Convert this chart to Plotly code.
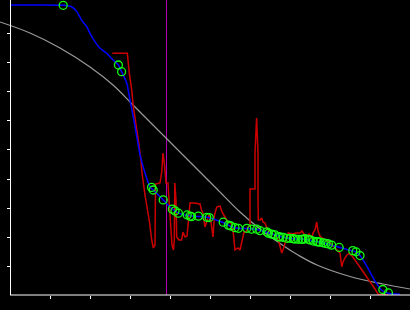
import plotly.graph_objects as go

# ---- data (x: 0-100 scale, y: 0-100 scale) ----
gray_x = [-2.5, 5, 12.5, 20, 25.75, 30.75, 39.25, 46.75, 51.75, 57.5, 62.5, 68.25, 72, 76.75, 85, 93.25, 100]
gray_y = [94.14, 90.34, 85.17, 78.62, 72.41, 65.52, 53.79, 43.45, 36.55, 28.62, 22.76, 17.07, 13.79, 10.34, 6.38, 3.79, 2.07]

blue_x = [0, 7.5, 13.3, 15.4, 16.7, 17.9, 19.2, 20, 21.25, 22.5, 24.2, 25.8, 27.1, 27.9, 29.2, 30, 30.8, 31.7, 32.5,
          33.75, 35, 35.8, 38.3, 40.5, 42, 44.5, 47, 49.5, 53.25, 55, 57, 59.25, 61.75, 64, 66.25, 68.75, 71.25,
          73.75, 75.75, 78, 80.25, 82.5, 84.25, 85.6, 86.5, 87.5, 88.75, 90, 91.25, 92.25, 93, 94.5, 97.5]
blue_y = [100, 100, 99.9, 99.4, 97.7, 94.8, 92.5, 90.2, 87.3, 85.1, 83.3, 81.0, 79.3, 77.0, 73.0, 67.2, 61.5, 54.6, 48.3,
          42.1, 37.3, 36.2, 32.8, 29.7, 28.3, 27.4, 27.1, 26.7, 25.0, 23.8, 23.0, 22.9, 22.6, 21.7, 20.7, 19.8, 19.3,
          19.3, 18.6, 18.1, 17.2, 16.4, 15.7, 15.3, 14.8, 13.6, 11.0, 7.9, 4.8, 2.8, 1.55, 0.6, 0.25]

red_x = [25.58, 29.33, 29.83, 30.43, 30.83, 31.5, 32.08, 32.68, 33.0, 33.75, 34.25, 34.88, 35.43,
         35.83, 36.25, 36.38, 37.5, 37.93, 38.25, 38.63, 39.0, 39.5, 39.75, 40.0, 40.25, 40.5, 40.88, 41.08, 41.2,
         41.5, 41.68, 42.25, 42.93, 43.25, 43.75, 44.25, 44.63, 45.0, 46.0, 47.5, 47.88, 48.25, 48.75, 49.25, 49.75,
         50.25, 50.75, 51.13, 51.68, 52.5, 53.0, 53.75, 54.5, 55.25, 55.75, 56.25, 57.0, 57.5, 58.0, 58.5, 59.0,
         59.5, 60.0, 60.0, 61.25, 61.25, 61.65, 62.0, 62.0, 62.08, 62.5, 62.93, 63.25, 63.75, 64.25, 65.0, 65.75,
         66.5, 67.08, 67.5, 67.93, 68.25, 68.75, 69.25, 69.58, 70.5, 71.5, 72.5, 73.0, 73.5, 74.18, 74.75, 75.43,
         75.75, 76.25, 76.68, 77.0, 77.5, 78.0, 79.0, 80.0, 81.0, 81.75, 82.5, 82.93, 83.25, 83.75, 84.25, 84.75,
         85.5, 86.25, 87.5, 88.75, 90.0, 91.25, 92.08, 94.5]
red_y = [83.34, 83.34, 76.45, 70.69, 64.93, 59.21, 53.45, 47.14, 42.07, 34.48, 30.34, 25.17, 18.97,
         16.21, 17.24, 38.28, 38.62, 42.41, 48.97, 44.83, 38.62, 38.62, 32.76, 27.59, 21.72, 17.24, 15.52, 18.97, 38.62,
         32.76, 20.0, 18.97, 18.97, 21.72, 20.0, 20.34, 25.86, 31.72, 31.72, 31.38, 29.31, 28.28, 23.45, 25.86, 27.59,
         25.17, 20.0, 27.59, 30.34, 30.69, 28.62, 26.9, 25.17, 24.83, 22.41, 15.52, 16.21, 15.52, 18.97, 21.72, 21.72,
         23.45, 23.79, 36.55, 36.55, 48.97, 61.03, 48.97, 32.76, 25.86, 25.86, 26.55, 25.17, 24.83, 23.1, 21.72, 21.03,
         20.34, 18.97, 16.55, 14.48, 15.52, 17.93, 20.34, 21.38, 21.03, 21.38, 21.38, 22.07, 21.03, 20.1, 21.03, 19.66,
         21.38, 22.41, 25.17, 22.07, 20.34, 19.66, 18.97, 17.93, 16.55, 15.52, 14.48, 9.76, 11.38, 12.76, 13.79, 14.31,
         13.45, 12.07, 9.66, 7.24, 4.83, 2.07, 0.17, 0.17]

mark_x = [13.3, 27.1, 27.9, 35.4, 35.8, 38.3, 40.6, 41.25, 42.1, 44.3, 45, 45.4, 47.1, 49.2, 49.8, 53.3, 54.6, 55.2,
          56.25, 57.1, 59.2, 60.4, 61.7, 62.5, 64.2, 64.6, 65.4, 66.25, 67.1, 67.5, 68.3, 69.2, 70, 70.8, 71.25, 72.1,
          72.9, 73.25, 73.75, 74.6, 75, 75.8, 76.7, 77, 77.5, 78.3, 79, 79.6, 80.4, 82.3, 85.7, 86.5, 87.5, 93.2, 94.6]
mark_y = [99.9, 79.3, 77.0, 37.1, 36.2, 32.8, 29.6, 29.0, 28.2, 27.6, 27.2, 27.0, 27.2, 26.8, 26.7, 25.1, 24.1, 23.8,
          23.2, 23.0, 23.0, 22.7, 22.7, 22.2, 21.8, 21.3, 21.0, 20.7, 20.1, 20.0, 19.9, 19.55, 19.55, 19.4, 19.3, 19.2,
          19.2, 19.2, 19.4, 19.2, 19.0, 18.6, 18.4, 18.3, 18.2, 18.0, 17.8, 17.6, 17.2, 16.4, 15.3, 14.9, 13.6, 1.9, 0.7]

vline_x = [39.125, 39.125]
vline_y = [0, 102]

x_ticks = [10, 20, 30, 40, 50, 60, 70, 80, 90]
y_ticks = [10, 20, 30, 40, 50, 60, 70, 80, 90]
X_RANGE = [-2.5, 100]
Y_RANGE = [0, 101.72]

fig = go.Figure()
fig.add_trace(go.Scatter(x=vline_x, y=vline_y, mode="lines",
                         line=dict(color="#b000b8", width=1)))
fig.add_trace(go.Scatter(x=gray_x, y=gray_y, mode="lines", line_shape="spline",
                         line=dict(color="#9a9a9a", width=1.2)))
fig.add_trace(go.Scatter(x=red_x, y=red_y, mode="lines",
                         line=dict(color="#cc0000", width=1.5)))
fig.add_trace(go.Scatter(x=blue_x, y=blue_y, mode="lines", line_shape="spline",
                         line=dict(color="#0000ff", width=1.5, smoothing=0.6)))
fig.add_trace(go.Scatter(x=mark_x, y=mark_y, mode="markers",
                         marker=dict(symbol="circle-open", size=8, color="#11ff11",
                                     line=dict(width=1.3, color="#11ff11"))))

fig.add_shape(type="line", xref="x", yref="paper", x0=0, x1=X_RANGE[1], y0=0, y1=0,
              line=dict(color="white", width=1))

fig.update_layout(
    width=410, height=310,
    margin=dict(l=0, r=0, t=0, b=15),
    paper_bgcolor="black", plot_bgcolor="black",
    showlegend=False,
    xaxis=dict(range=X_RANGE, tickvals=x_ticks, ticks="outside", ticklen=3, tickwidth=1,
               tickcolor="white", showticklabels=False, showgrid=False, zeroline=False,
               showline=False),
    yaxis=dict(range=Y_RANGE, tickvals=y_ticks, ticks="outside", ticklen=3, tickwidth=1,
               tickcolor="white", showticklabels=False, showgrid=False, zeroline=False,
               showline=True, linecolor="white", linewidth=1,
               anchor="free", position=10 / 410),
)

fig.write_html("out.html")
